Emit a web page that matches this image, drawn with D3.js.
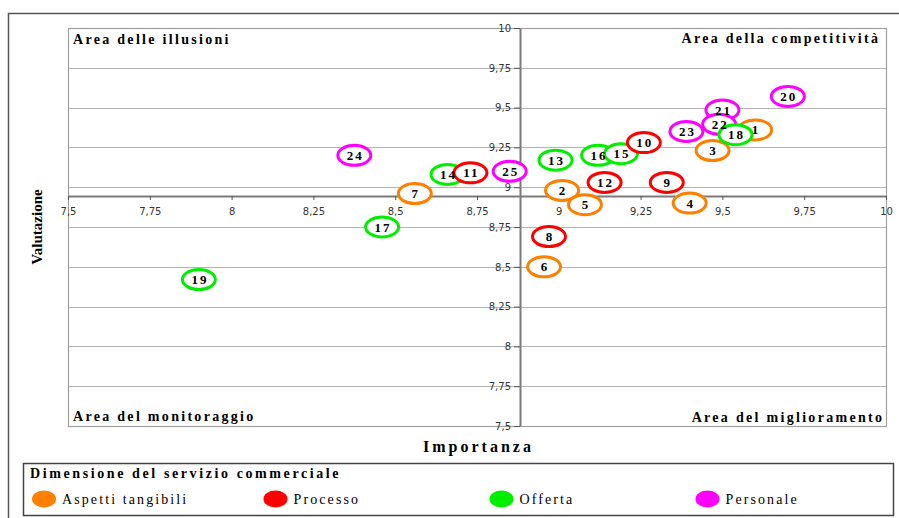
<!DOCTYPE html>
<html><head><meta charset="utf-8">
<script src="https://cdn.jsdelivr.net/npm/d3@7"></script>
<style>
html,body{margin:0;padding:0;background:#fff;}
svg{display:block;}
</style></head>
<body>
<script>
// ---- data ----
const seriesNames = ["Aspetti tangibili", "Processo", "Offerta", "Personale"];
const seriesColors = ["#FF8000", "#FF0000", "#00EE00", "#FF00FF"];
// ids, importanza (x), valutazione (y), series index — listed in drawing order
const ids        = [1, 2, 3, 4, 5, 6, 7, 24, 25, 23, 21, 22, 20, 17, 19, 13, 14, 16, 15, 18, 8, 9, 10, 11, 12];
const importanza = [9.60, 9.01, 9.47, 9.40, 9.08, 8.955, 8.56, 8.375, 8.85, 9.39, 9.50, 9.49, 9.70, 8.46, 7.90, 8.99, 8.66, 9.12, 9.19, 9.54, 8.97, 9.33, 9.26, 8.73, 9.14];
const valutazione= [9.36, 8.98, 9.23, 8.90, 8.89, 8.50, 8.96, 9.20, 9.10, 9.35, 9.485, 9.395, 9.57, 8.75, 8.42, 9.17, 9.08, 9.20, 9.21, 9.33, 8.69, 9.03, 9.28, 9.09, 9.03];
const seriesIdx  = [0, 0, 0, 0, 0, 0, 0, 3, 3, 3, 3, 3, 3, 2, 2, 2, 2, 2, 2, 2, 1, 1, 1, 1, 1];
const xTicks = [7.5, 7.75, 8, 8.25, 8.5, 8.75, 9, 9.25, 9.5, 9.75, 10];
const yTicks = [7.5, 7.75, 8, 8.25, 8.5, 8.75, 9, 9.25, 9.5, 9.75, 10];
const xCross = 8.88;   // where the vertical axis crosses
const yCross = 8.945;  // where the horizontal axis crosses
const quadrantLabels = ["Area delle illusioni", "Area della competitività", "Area del monitoraggio", "Area del miglioramento"];
const legendTitle = "Dimensione del servizio commerciale";

// ---- layout ----
const W = 899, H = 518;
const svg = d3.select("body").append("svg").attr("width", W).attr("height", H);
const serif = "'Liberation Serif','Times New Roman',serif";
const sans = "'DejaVu Sans',Verdana,sans-serif";
const L = 68, R = 886, T = 28, B = 426;
const x = d3.scaleLinear().domain([7.5, 10]).range([L, R]);
const y = d3.scaleLinear().domain([7.5, 10]).range([B, T]);
const fmt = d => String(d).replace(".", ",");

// outer frame
svg.append("path").attr("d", `M8.5,${H} V13.5 H${W}`).attr("fill", "none").attr("stroke", "#555").attr("stroke-width", 1.5);

// gridlines
svg.append("g").selectAll("line").data(yTicks).join("line")
  .attr("x1", L).attr("x2", R).attr("y1", d => Math.round(y(d)) + 0.5).attr("y2", d => Math.round(y(d)) + 0.5)
  .attr("stroke", "#b4b4b4").attr("stroke-width", 1);

// plot border
svg.append("rect").attr("x", L + 0.5).attr("y", T + 0.5).attr("width", R - L).attr("height", B - T)
  .attr("fill", "none").attr("stroke", "#a0a0a0").attr("stroke-width", 1.2);

// axes
const gx = svg.append("g").attr("transform", `translate(0,${Math.round(y(yCross))})`)
  .call(d3.axisBottom(x).tickValues(xTicks).tickFormat(fmt).tickSizeInner(4).tickSizeOuter(0).tickPadding(8));
const gy = svg.append("g").attr("transform", `translate(${Math.round(x(xCross))},0)`)
  .call(d3.axisLeft(y).tickValues(yTicks).tickFormat(fmt).tickSizeInner(6).tickSizeOuter(0).tickPadding(3));
[gx, gy].forEach(g => {
  g.select(".domain").attr("stroke", "#7a7a7a").attr("stroke-width", 2);
  g.selectAll(".tick line").attr("stroke", "#555");
  g.selectAll(".tick text").attr("font-family", sans).attr("font-size", 10).attr("fill", "#333");
});

// quadrant labels
const qs = 2.3;
const ql = svg.append("g").attr("font-family", serif).attr("font-weight", "bold").attr("font-size", 14)
  .attr("letter-spacing", qs).attr("fill", "#000");
ql.append("text").attr("x", 73).attr("y", 44).text(quadrantLabels[0]);
ql.append("text").attr("x", 878 + qs).attr("y", 43).attr("text-anchor", "end").text(quadrantLabels[1]);
ql.append("text").attr("x", 73).attr("y", 421).text(quadrantLabels[2]);
ql.append("text").attr("x", 882 + qs).attr("y", 422).attr("text-anchor", "end").text(quadrantLabels[3]);

// axis titles
svg.append("text").attr("transform", `translate(42,${(T + B) / 2}) rotate(-90)`).attr("text-anchor", "middle")
  .attr("font-family", serif).attr("font-weight", "bold").attr("font-size", 15).text("Valutazione");
svg.append("text").attr("x", (L + R) / 2 + 1.5).attr("y", 452).attr("text-anchor", "middle")
  .attr("font-family", serif).attr("font-weight", "bold").attr("font-size", 16).attr("letter-spacing", 3).text("Importanza");

// bubbles: all markers first, then all data labels on top
const pts = ids.map((id, i) => ({id, x: importanza[i], y: valutazione[i], s: seriesIdx[i]}));
svg.append("g").selectAll("ellipse").data(pts).join("ellipse")
  .attr("cx", d => x(d.x)).attr("cy", d => y(d.y))
  .attr("rx", 16.5).attr("ry", 10).attr("fill", "#fff")
  .attr("stroke", d => seriesColors[d.s]).attr("stroke-width", 3);
svg.append("g").selectAll("text").data(pts).join("text")
  .attr("x", d => x(d.x) + 1).attr("y", d => y(d.y))
  .attr("text-anchor", "middle").attr("dy", "0.35em")
  .attr("font-family", serif).attr("font-weight", "bold").attr("font-size", 13).attr("letter-spacing", 2)
  .text(d => d.id);

// legend
const lg = svg.append("g");
lg.append("rect").attr("x", 23.5).attr("y", 463.5).attr("width", 870).attr("height", 52)
  .attr("fill", "#fff").attr("stroke", "#444").attr("stroke-width", 1.5);
lg.append("text").attr("x", 30).attr("y", 478).attr("font-family", serif).attr("font-weight", "bold")
  .attr("font-size", 14).attr("letter-spacing", 2.6).text(legendTitle);
const legX = [44, 275.5, 501.5, 707.5];
const items = lg.selectAll("g.item").data(seriesNames).join("g").attr("class", "item")
  .attr("transform", (d, i) => `translate(${legX[i]},499)`);
items.append("ellipse").attr("rx", 12).attr("ry", 8.5).attr("fill", (d, i) => seriesColors[i]);
items.append("text").attr("x", 18).attr("y", 4.5).attr("font-family", serif).attr("font-size", 14)
  .attr("letter-spacing", 2.1).text(d => d);
</script>
</body></html>
